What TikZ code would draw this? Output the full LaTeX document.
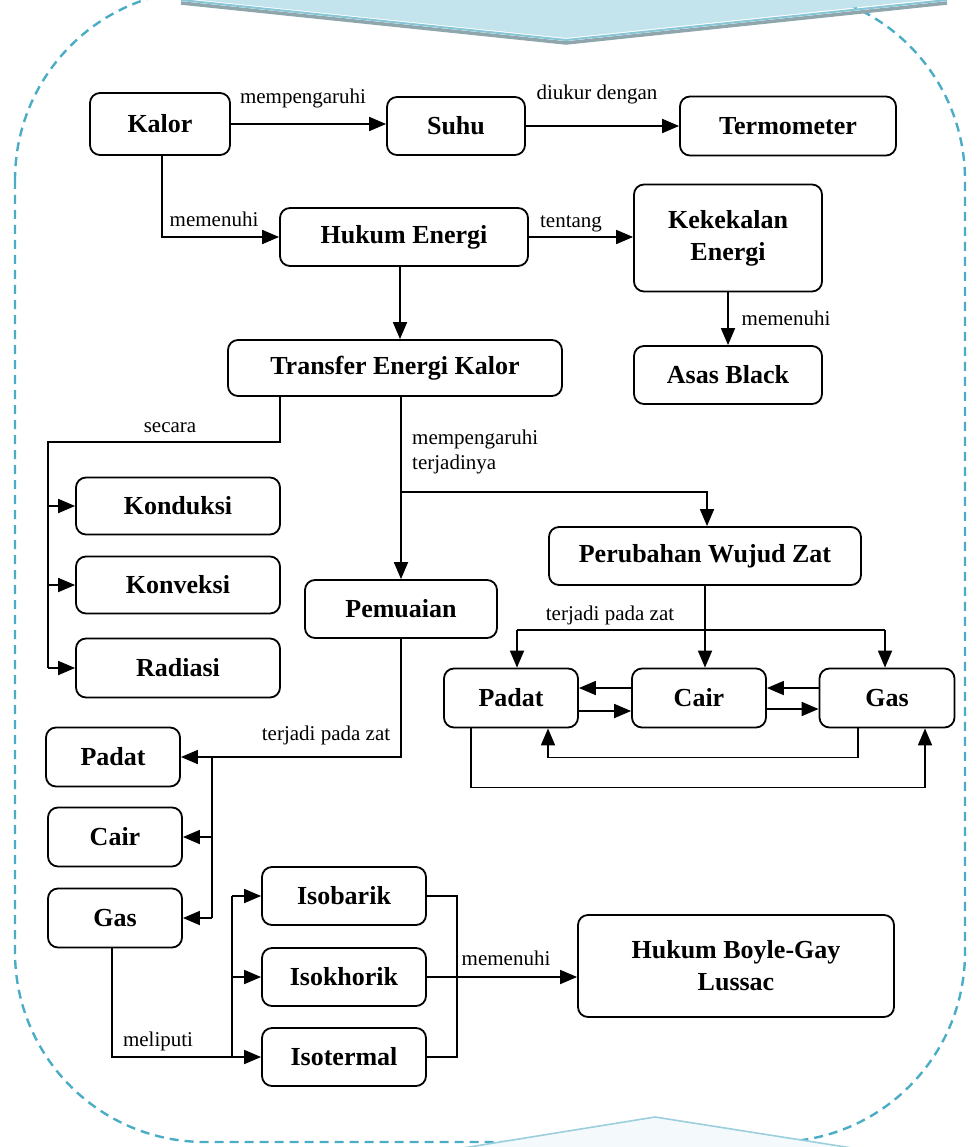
\documentclass[tikz,border=0pt]{standalone}
\usepackage{fontspec}
\setmainfont{Liberation Serif}
\usetikzlibrary{arrows.meta,calc}
\definecolor{dashcol}{HTML}{4BACC6}
\definecolor{banfill}{HTML}{C3E4ED}
\definecolor{banedge}{HTML}{86C6D6}
\definecolor{banshadow}{HTML}{8FA6AD}
\definecolor{banfill2}{HTML}{F4FAFC}
\definecolor{banedge2}{HTML}{9BCFDD}
\tikzset{
  box/.style={draw, rounded corners=10pt, line width=1.8pt, inner sep=0pt, align=center,
    font=\fontsize{26}{32}\selectfont\bfseries},
  conn/.style={line width=1.8pt},
  arr/.style={line width=1.8pt, -{Triangle[length=17pt,width=14pt]}},
  lbl/.style={font=\fontsize{21}{25}\selectfont, inner sep=0pt}
}
\begin{document}
\begin{tikzpicture}[x=1pt,y=-1pt]
\useasboundingbox (0,0) rectangle (976,1147);
% background border
\draw[dashcol, line width=2.4pt, dash pattern=on 9pt off 6pt, rounded corners=190pt] (15,-10) rectangle (965,1142);
% top banner
\fill[banfill] (170,-3) -- (566,38) -- (955,-3) -- cycle;
\draw[banshadow, line width=3.5pt] (181,3) -- (566,43) -- (947,3);
\draw[banedge, line width=2pt] (181,0) -- (566,40) -- (947,0);
% bottom banner
\fill[banfill2] (463,1148) -- (655,1117) -- (852,1148) -- cycle;
\draw[banedge2, line width=1.6pt] (463,1148) -- (655,1117) -- (852,1148);

% nodes
\node[box, minimum width=140pt, minimum height=62pt] (kalor) at (160,124) {Kalor};
\node[box, minimum width=138pt, minimum height=58pt] (suhu) at (456,126) {Suhu};
\node[box, minimum width=216pt, minimum height=59pt] (termo) at (788,126) {Termometer};
\node[box, minimum width=248pt, minimum height=58pt] (hukum) at (404,237) {Hukum Energi};
\node[box, minimum width=188pt, minimum height=107pt] (kekal) at (728,238) {Kekekalan\\Energi};
\node[box, minimum width=188pt, minimum height=58pt] (asas) at (728,375) {Asas Black};
\node[box, minimum width=334pt, minimum height=56pt] (transfer) at (395,368) {Transfer Energi Kalor};
\node[box, minimum width=204pt, minimum height=57pt] (kond) at (178,506) {Konduksi};
\node[box, minimum width=204pt, minimum height=57pt] (konv) at (178,585) {Konveksi};
\node[box, minimum width=204pt, minimum height=59pt] (rad) at (178,668) {Radiasi};
\node[box, minimum width=192pt, minimum height=58pt] (pemu) at (401,609) {Pemuaian};
\node[box, minimum width=312pt, minimum height=58pt] (perub) at (705,556) {Perubahan Wujud Zat};
\node[box, minimum width=134pt, minimum height=59pt] (padR) at (511,698) {Padat};
\node[box, minimum width=134pt, minimum height=59pt] (cairR) at (699,698) {Cair};
\node[box, minimum width=135pt, minimum height=59pt] (gasR) at (887,698) {Gas};
\node[box, minimum width=134pt, minimum height=59pt] (padL) at (113,757) {Padat};
\node[box, minimum width=134pt, minimum height=59pt] (cairL) at (115,837) {Cair};
\node[box, minimum width=134pt, minimum height=59pt] (gasL) at (115,918) {Gas};
\node[box, minimum width=164pt, minimum height=58pt] (isob) at (344,896) {Isobarik};
\node[box, minimum width=164pt, minimum height=58pt] (isok) at (344,977) {Isokhorik};
\node[box, minimum width=164pt, minimum height=58pt] (isot) at (344,1057) {Isotermal};
\node[box, minimum width=316pt, minimum height=102pt] (boyle) at (736,966) {Hukum Boyle-Gay\\Lussac};

% labels
\node[lbl] (l1) at (303,98) {mempengaruhi};
\node[lbl] (l2) at (597,94) {diukur dengan};
\node[lbl] (l3) at (214,219) {memenuhi};
\node[lbl] (l4) at (571,224) {tentang};
\node[lbl] (l5) at (786,318) {memenuhi};
\node[lbl] (l6) at (170,428) {secara};
\node[lbl, anchor=north west, align=left, font=\fontsize{21}{25}\selectfont] (l7) at (412,430) {mempengaruhi\\terjadinya};
\node[lbl] (l8) at (610,615) {terjadi pada zat};
\node[lbl] (l9) at (326,735) {terjadi pada zat};
\node[lbl] (l10) at (158,1041) {meliputi};
\node[lbl] (l11) at (506,958) {memenuhi};

% connectors top
\draw[arr] (kalor.east) -- (kalor.east -| suhu.west);
\draw[arr] (suhu.east) -- (suhu.east -| termo.west);
\draw[arr] ([xshift=2pt]kalor.south) |- (hukum.west);
\draw[arr] (hukum.east) -- (hukum.east -| kekal.west);
\draw[arr] (kekal.south) -- (asas.north);
\draw[arr] ([xshift=-4pt]hukum.south) -- ([xshift=-4pt]hukum.south |- transfer.north);

% secara branch
\coordinate (sL) at (48,442);
\draw[conn] ([xshift=-115pt]transfer.south) |- (sL) -- (sL |- rad.west);
\draw[arr] (sL |- kond.west) -- (kond.west);
\draw[arr] (sL |- konv.west) -- (konv.west);
\draw[arr] (sL |- rad.west) -- (rad.west);

% mempengaruhi terjadinya
\draw[arr] (transfer.south -| pemu.north) -- (pemu.north);
\coordinate (br) at (401,492);
\draw[arr] (br) -| ([xshift=2pt]perub.north);

% perubahan wujud
\draw[arr] (perub.south) -- (perub.south |- cairR.north);
\coordinate (hl) at (517,630);
\coordinate (hr) at (885,630);
\draw[conn] (hl) -- (hr);
\draw[arr] (hl) -- (hl |- padR.north);
\draw[arr] (hr) -- (hr |- gasR.north);
\draw[arr] ([yshift=10pt]cairR.west) -- ([yshift=10pt]padR.east);
\draw[arr] ([yshift=-13pt]padR.east) -- ([yshift=-13pt]cairR.west);
\draw[arr] ([yshift=10pt]gasR.west) -- ([yshift=10pt]cairR.east);
\draw[arr] ([yshift=-11pt]cairR.east) -- ([yshift=-11pt]gasR.west);
\draw[arr] ([xshift=-29pt]gasR.south) -- ++(0,29) -| ([xshift=37pt]padR.south);
\draw[arr] ([xshift=-40pt]padR.south) -- ++(0,59) -| ([xshift=38pt]gasR.south);

% pemuaian
\draw[arr] (pemu.south) |- (padL.east);
\coordinate (vL) at (212,757);
\draw[conn] (vL) -- (vL |- gasL.east);
\draw[arr] (vL |- cairL.east) -- (cairL.east);
\draw[arr] (vL |- gasL.east) -- (gasL.east);

% gas meliputi
\draw[arr] ([xshift=-3pt]gasL.south) |- (isot.west);
\coordinate (vI) at (232,1057);
\draw[conn] (vI) -- (vI |- isob.west);
\draw[arr] (vI |- isob.west) -- (isob.west);
\draw[arr] (vI |- isok.west) -- (isok.west);

% memenuhi boyle
\draw[conn] (isob.east) -- ++(30,0) |- (isot.east);
\draw[arr] (isok.east) -- (isok.east -| boyle.west);
\end{tikzpicture}
\end{document}
